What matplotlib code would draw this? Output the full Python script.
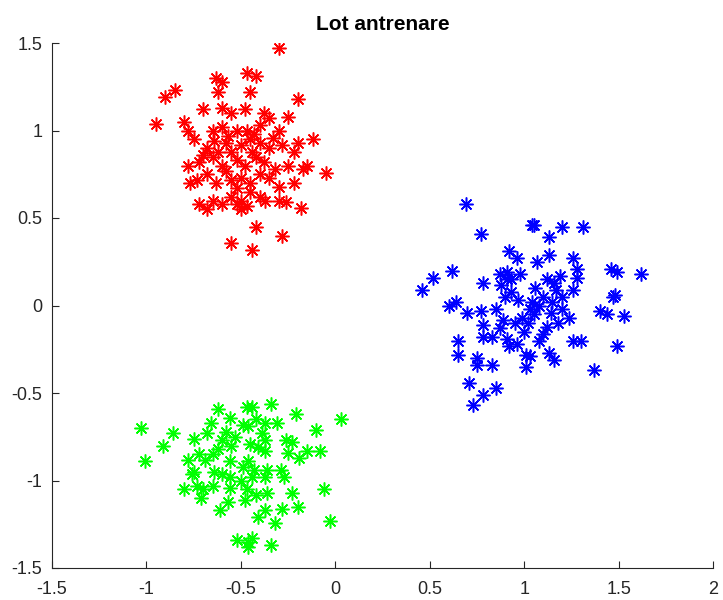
import matplotlib
matplotlib.use("Agg")
import matplotlib.pyplot as plt

plt.rcParams['font.family'] = ['Liberation Sans', 'DejaVu Sans']

title = "Lot antrenare"
xticks = [-1.5, -1, -0.5, 0, 0.5, 1, 1.5, 2]
xtick_labels = ["-1.5", "-1", "-0.5", "0", "0.5", "1", "1.5", "2"]
yticks = [-1.5, -1, -0.5, 0, 0.5, 1, 1.5]
ytick_labels = ["-1.5", "-1", "-0.5", "0", "0.5", "1", "1.5"]

red_x = [-0.30, -0.63, -0.47, -0.42, -0.60, -0.90, -0.85, -0.62, -0.45, -0.20,
         -0.70, -0.60, -0.55, -0.48, -0.38, -0.35, -0.25, -0.95, -0.80, -0.78,
         -0.65, -0.60, -0.52, -0.47, -0.43, -0.40, -0.30, -0.12, -0.75, -0.68,
         -0.58, -0.55, -0.50, -0.45, -0.35, -0.28, -0.22, -0.20, -0.78, -0.72,
         -0.65, -0.60, -0.52, -0.48, -0.42, -0.38, -0.32, -0.25, -0.15, -0.17,
         -0.05, -0.77, -0.73, -0.68, -0.63, -0.55, -0.50, -0.45, -0.40, -0.35,
         -0.30, -0.22, -0.72, -0.65, -0.60, -0.55, -0.52, -0.50, -0.45, -0.40,
         -0.37, -0.30, -0.18, -0.68, -0.50, -0.47, -0.42, -0.55, -0.44, -0.28,
         -0.26, -0.57, -0.62, -0.44, -0.33, -0.70, -0.58, -0.40, -0.52, -0.64]
red_y = [1.47, 1.30, 1.33, 1.31, 1.28, 1.19, 1.23, 1.22, 1.22, 1.18,
         1.12, 1.13, 1.10, 1.12, 1.10, 1.07, 1.08, 1.04, 1.05, 1.00,
         1.00, 1.02, 1.00, 1.00, 0.98, 1.03, 1.00, 0.95, 0.95, 0.90,
         0.93, 0.88, 0.92, 0.95, 0.90, 0.92, 0.88, 0.93, 0.80, 0.82,
         0.85, 0.80, 0.83, 0.80, 0.85, 0.82, 0.78, 0.80, 0.80, 0.78,
         0.76, 0.70, 0.72, 0.75, 0.70, 0.72, 0.73, 0.70, 0.75, 0.73,
         0.68, 0.70, 0.58, 0.60, 0.58, 0.62, 0.58, 0.60, 0.65, 0.62,
         0.60, 0.60, 0.56, 0.55, 0.55, 0.57, 0.45, 0.36, 0.32, 0.40,
         0.59, 0.97, 0.88, 0.88, 0.96, 0.86, 0.77, 0.93, 0.67, 0.94]

blue_x = [0.69, 0.77, 1.04, 1.05, 1.20, 1.31, 1.13, 1.13, 1.26, 1.07,
          1.28, 1.28, 1.19, 1.46, 1.49, 1.62, 1.48, 1.26, 1.16, 1.17,
          0.92, 0.96, 0.62, 0.52, 0.46, 0.78, 0.91, 0.91, 0.64, 0.70,
          0.77, 0.78, 0.78, 0.87, 0.91, 0.92, 0.65, 0.65, 0.75, 0.75,
          0.83, 0.71, 0.85, 0.78, 0.73, 1.01, 1.01, 0.99, 1.03, 1.40,
          1.44, 1.53, 1.49, 1.37, 1.47, 1.24, 1.26, 1.13, 1.16, 1.03,
          0.95, 1.05, 1.08, 1.10, 1.15, 1.20, 0.88, 0.93, 0.98, 1.12,
          1.02, 0.85, 0.90, 1.12, 1.20, 0.87, 0.93, 0.83, 1.08, 1.30,
          0.97, 1.00, 1.06, 1.10, 0.89, 1.14, 0.96, 1.04, 1.18, 0.60]
blue_y = [0.58, 0.41, 0.46, 0.46, 0.45, 0.45, 0.39, 0.29, 0.27, 0.25,
          0.21, 0.16, 0.17, 0.21, 0.19, 0.18, 0.06, 0.09, 0.13, 0.09,
          0.31, 0.27, 0.20, 0.16, 0.09, 0.13, 0.19, 0.15, 0.02, -0.04,
          -0.03, -0.11, -0.18, -0.13, -0.19, -0.23, -0.20, -0.28, -0.30, -0.34,
          -0.34, -0.44, -0.47, -0.51, -0.57, -0.28, -0.35, -0.07, -0.02, -0.03,
          -0.05, -0.06, -0.23, -0.37, 0.05, -0.07, -0.20, -0.27, -0.31, -0.29,
          -0.10, -0.05, 0.00, 0.05, 0.02, -0.02, 0.12, 0.15, 0.18, 0.15,
          -0.10, -0.02, 0.05, -0.12, 0.05, 0.18, 0.08, -0.18, -0.20, -0.20,
          0.03, -0.15, 0.10, -0.16, -0.08, -0.04, -0.22, 0.02, -0.10, 0.00]

green_x = [-1.03, -0.86, -0.91, -1.01, -0.75, -0.78, -0.62, -0.56, -0.47, -0.66,
           -0.68, -0.60, -0.65, -0.69, -0.56, -0.60, -0.49, -0.75, -0.49, -0.44,
           -0.34, -0.21, 0.03, -0.10, -0.42, -0.37, -0.31, -0.46, -0.39, -0.45,
           -0.37, -0.26, -0.23, -0.25, -0.15, -0.08, -0.19, -0.37, -0.41, -0.46,
           -0.43, -0.36, -0.29, -0.76, -0.80, -0.73, -0.65, -0.56, -0.56, -0.48,
           -0.57, -0.61, -0.52, -0.46, -0.44, -0.37, -0.27, -0.23, -0.36, -0.42,
           -0.06, -0.20, -0.28, -0.37, -0.41, -0.32, -0.03, -0.44, -0.34, -0.46,
           -0.72, -0.70, -0.55, -0.58, -0.62, -0.50, -0.53, -0.47, -0.64, -0.71]
green_y = [-0.70, -0.73, -0.80, -0.89, -0.76, -0.88, -0.59, -0.64, -0.58, -0.67,
           -0.73, -0.77, -0.85, -0.88, -0.89, -0.96, -0.92, -0.95, -0.68, -0.58,
           -0.56, -0.62, -0.65, -0.71, -0.65, -0.67, -0.67, -0.69, -0.73, -0.79,
           -0.77, -0.77, -0.78, -0.84, -0.83, -0.83, -0.87, -0.83, -0.81, -0.89,
           -0.94, -0.94, -0.94, -0.96, -1.05, -1.03, -1.03, -0.98, -1.04, -1.11,
           -1.12, -1.17, -1.34, -1.35, -0.98, -0.98, -0.98, -1.07, -1.07, -1.08,
           -1.05, -1.15, -1.16, -1.17, -1.21, -1.24, -1.23, -1.33, -1.37, -1.38,
           -0.85, -1.05, -0.80, -0.72, -0.82, -1.00, -0.75, -1.05, -0.95, -1.10]

fig = plt.figure(figsize=(7.23, 6.0), dpi=100)
ax = fig.add_axes([52/723, 1-568/600, (713-52)/723, (568-43)/600])

for xs, ys, c in [(red_x, red_y, '#ff0000'), (blue_x, blue_y, '#0000ff'), (green_x, green_y, '#00ff00')]:
    ax.plot(xs, ys, linestyle='none', marker=(8, 2, 0), color=c, markersize=10,
            markeredgewidth=1.1, markeredgecolor=c)

ax.set_xlim(-1.5, 2)
ax.set_ylim(-1.5, 1.5)
ax.set_xticks(xticks)
ax.set_xticklabels(xtick_labels)
ax.set_yticks(yticks)
ax.set_yticklabels(ytick_labels)
for s in ['top', 'right']:
    ax.spines[s].set_visible(False)
for s in ['left', 'bottom']:
    ax.spines[s].set_color('#262626')
    ax.spines[s].set_linewidth(0.8)
ax.tick_params(direction='in', length=5, width=0.8, colors='#262626', labelsize=13)
ax.tick_params(axis='x', pad=9)
ax.tick_params(axis='y', pad=7)
ax.set_title(title, fontsize=15, fontweight='bold', pad=9)

fig.savefig('out.png', dpi=100)
